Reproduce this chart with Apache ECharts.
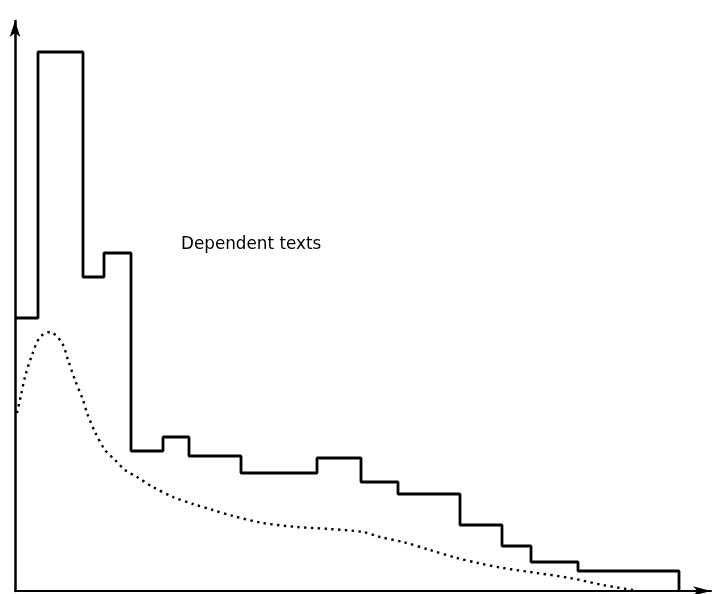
<!DOCTYPE html>
<html>
<head>
<meta charset="utf-8">
<script src="https://cdn.jsdelivr.net/npm/echarts@6/dist/echarts.min.js"></script>
<style>
  html, body { margin: 0; padding: 0; background: #fff; }
  #chart { width: 722px; height: 594px; }
</style>
</head>
<body>
<div id="chart"></div>
<script>
// histogram bin edges and heights (arbitrary units)
const binEdges = [0, 2.3, 6.8, 8.9, 11.6, 14.8, 17.4, 22.6, 30.2, 34.6, 38.3, 44.5, 48.7, 51.6, 56.3, 66.4];
const binHeights = [27.3, 53.9, 31.4, 33.8, 14.0, 15.4, 13.5, 11.8, 13.3, 10.9, 9.7, 6.6, 4.5, 2.9, 2.0];

// dotted density curve
const curveX = [0.2, 0.6, 1.0, 1.7, 2.5, 3.5, 4.7, 5.3, 6.0, 6.8, 7.2, 8.0, 9.0, 10.0, 11.0, 12.2, 13.8, 15.8, 17.8, 19.8, 21.8, 24.8, 28.2, 31.5, 34.8, 36.5, 38.8, 41.5, 44.2, 46.3, 48.8, 52.2, 55.5, 58.8, 61.8];
const curveY = [17.8, 19.6, 21.4, 23.6, 25.4, 25.9, 24.8, 23.1, 21.1, 19.1, 17.8, 15.9, 14.1, 13.1, 12.1, 11.4, 10.4, 9.4, 8.7, 8.1, 7.5, 6.8, 6.4, 6.2, 5.9, 5.4, 4.9, 4.1, 3.3, 2.8, 2.3, 1.8, 1.3, 0.6, 0.1];

const labelText = "Dependent texts";

// outline of the histogram
const outline = [];
binHeights.forEach((h, i) => {
  outline.push([binEdges[i], h]);
  outline.push([binEdges[i + 1], h]);
});
outline.push([binEdges[binEdges.length - 1], 0]);

const curve = curveX.map((x, i) => [x, curveY[i]]);

const myChart = echarts.init(document.getElementById("chart"));
myChart.setOption({
  animation: false,
  backgroundColor: "#fff",
  grid: { left: 15, right: 11, top: 21, bottom: 3 },
  xAxis: {
    type: "value",
    min: 0,
    max: 69.6,
    axisLine: {
      lineStyle: { color: "#000", width: 2 },
      symbol: ["none", "arrow"],
      symbolSize: [7, 18],
    },
    axisTick: { show: false },
    axisLabel: { show: false },
    splitLine: { show: false },
  },
  yAxis: {
    type: "value",
    min: 0,
    max: 57.0,
    axisLine: {
      lineStyle: { color: "#000", width: 2.5 },
      symbol: ["none", "arrow"],
      symbolSize: [8, 16],
    },
    axisTick: { show: false },
    axisLabel: { show: false },
    splitLine: { show: false },
  },
  graphic: [
    {
      type: "text",
      left: 181,
      top: 236,
      style: {
        text: labelText,
        fill: "#000",
        font: "16.8px 'DejaVu Sans'",
      },
    },
  ],
  series: [
    {
      type: "line",
      data: outline,
      symbol: "none",
      lineStyle: { color: "#000", width: 2.8 },
      z: 3,
    },
    {
      type: "line",
      data: curve,
      symbol: "none",
      smooth: 0.3,
      lineStyle: { color: "#000", width: 2.4, type: [2.4, 4.4] },
      z: 2,
    },
  ],
});
</script>
</body>
</html>
